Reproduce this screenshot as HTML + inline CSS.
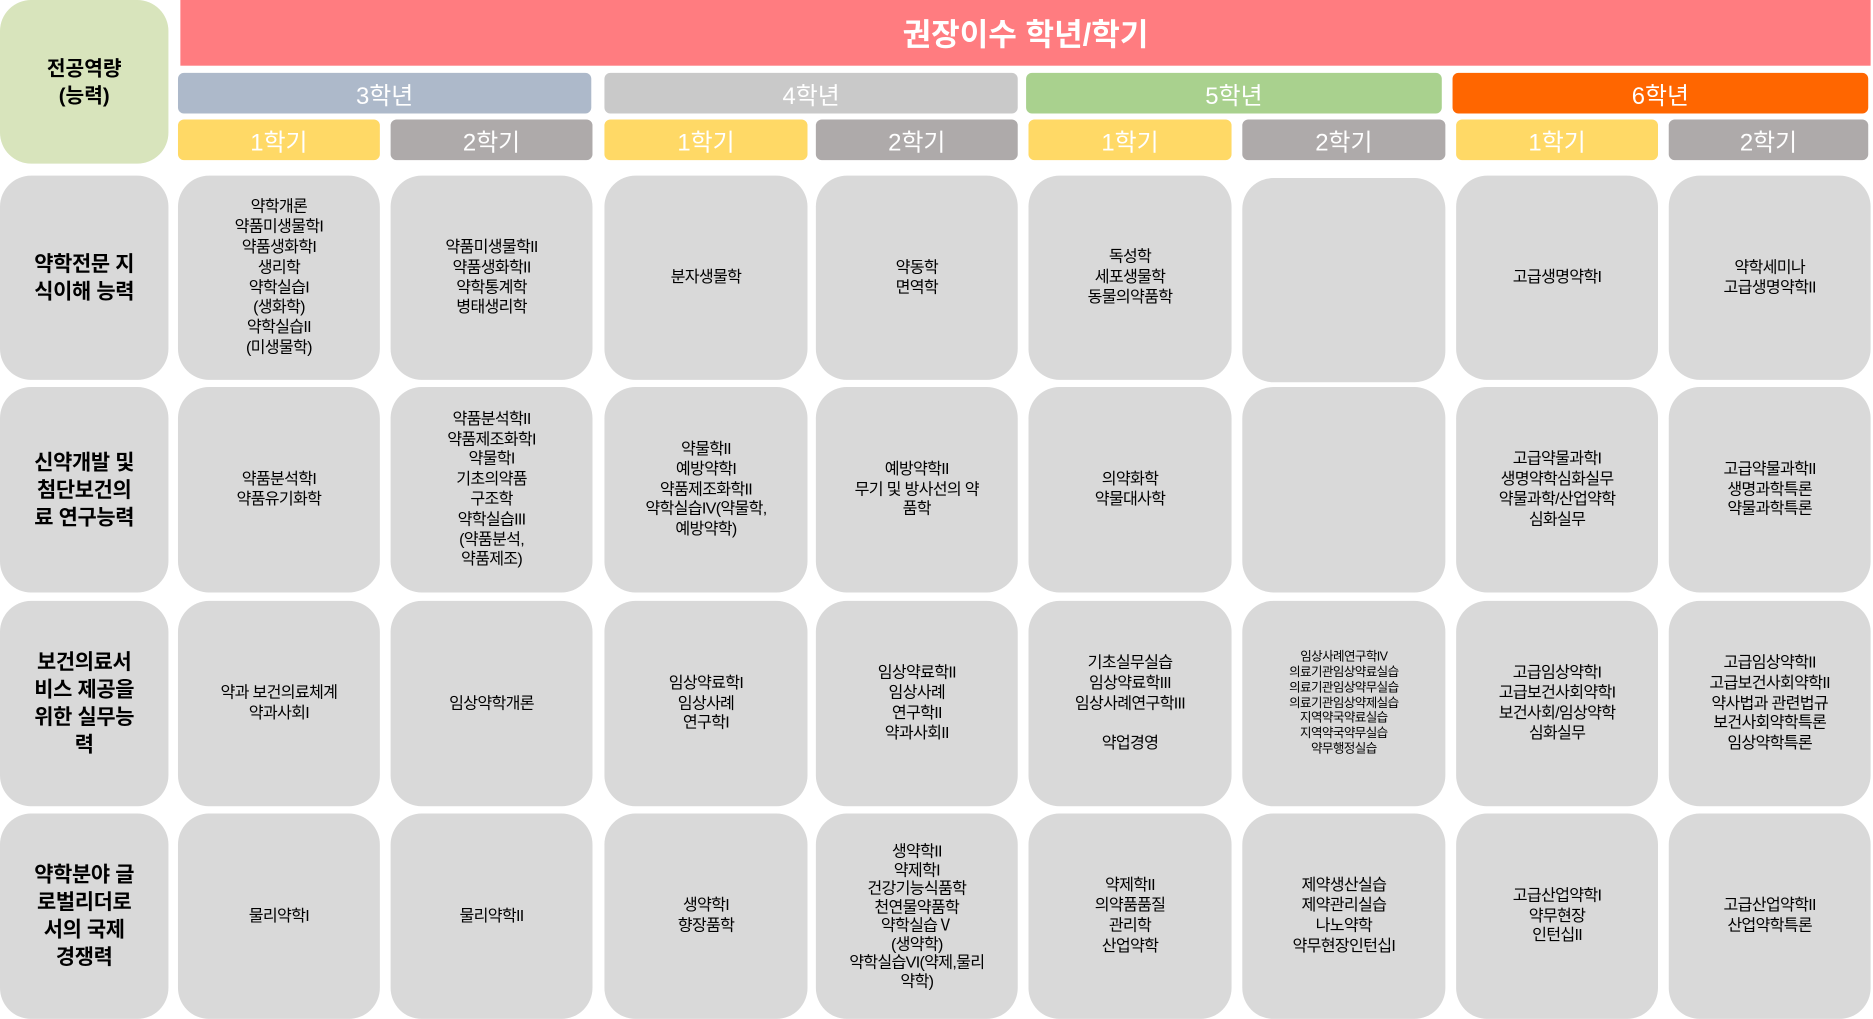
<!DOCTYPE html>
<html><head><meta charset="utf-8"><style>
html,body{margin:0;padding:0;background:#fff;width:1873px;height:1019px;overflow:hidden}
#w{position:absolute;left:0;top:0;width:1568px;height:853px;transform:scale(1.19452);transform-origin:0 0;font-family:"Liberation Sans","Noto Sans CJK KR",sans-serif}
.b{position:absolute;display:flex;align-items:center;justify-content:center;text-align:center;box-sizing:border-box}
.c{background:#d9d9d9;border-radius:26px;font-size:13.5px;line-height:16.8px;letter-spacing:-0.6px;color:#000;padding:0 4px}
.h{background:#d9d9d9;border-radius:26px;font-size:17.5px;line-height:23px;font-weight:bold;color:#000;white-space:nowrap;letter-spacing:-0.3px}
.y{color:#fff;font-size:20px;border-radius:5px}
.s{color:#fff;font-size:20px;border-radius:5px}
.ye{background:#ffd966}.gr{background:#aeaaaa}
.sm{font-size:10.5px;line-height:12.8px;letter-spacing:-0.5px}
</style></head><body><div id="w">
<div class="b" style="left:0;top:0;width:141px;height:137px;background:#d8e4bc;border-radius:26px;font-weight:bold;font-size:17px;line-height:23px">전공역량<br>(능력)</div>
<div class="b" style="left:151px;top:0;width:1415px;height:55px;background:#ff7c80;color:#fff;font-weight:bold;font-size:26px">권장이수 학년/학기</div>
<div class="b y" style="left:149px;top:61px;width:346px;height:34px;background:#adb9ca">3학년</div>
<div class="b y" style="left:506px;top:61px;width:346px;height:34px;background:#c9c9c9">4학년</div>
<div class="b y" style="left:859px;top:61px;width:348px;height:34px;background:#a9d18e">5학년</div>
<div class="b y" style="left:1216px;top:61px;width:348px;height:34px;background:#ff6600">6학년</div>
<div class="b s ye" style="left:149px;top:100px;width:169px;height:34px">1학기</div>
<div class="b s gr" style="left:327px;top:100px;width:169px;height:34px">2학기</div>
<div class="b s ye" style="left:506px;top:100px;width:170px;height:34px">1학기</div>
<div class="b s gr" style="left:683px;top:100px;width:169px;height:34px">2학기</div>
<div class="b s ye" style="left:861px;top:100px;width:170px;height:34px">1학기</div>
<div class="b s gr" style="left:1040px;top:100px;width:170px;height:34px">2학기</div>
<div class="b s ye" style="left:1219px;top:100px;width:169px;height:34px">1학기</div>
<div class="b s gr" style="left:1397px;top:100px;width:167px;height:34px">2학기</div>

<!-- row 1 -->
<div class="b h" style="left:0;top:147px;width:141px;height:171px">약학전문 지<br>식이해 능력</div>
<div class="b c" style="left:149px;top:147px;width:169px;height:171px">약학개론<br>약품미생물학I<br>약품생화학I<br>생리학<br>약학실습I<br>(생화학)<br>약학실습II<br>(미생물학)</div>
<div class="b c" style="left:327px;top:147px;width:169px;height:171px">약품미생물학II<br>약품생화학II<br>약학통계학<br>병태생리학</div>
<div class="b c" style="left:506px;top:147px;width:170px;height:171px">분자생물학</div>
<div class="b c" style="left:683px;top:147px;width:169px;height:171px">약동학<br>면역학</div>
<div class="b c" style="left:861px;top:147px;width:170px;height:171px">독성학<br>세포생물학<br>동물의약품학</div>
<div class="b c" style="left:1040px;top:149px;width:170px;height:171px"></div>
<div class="b c" style="left:1219px;top:147px;width:169px;height:171px">고급생명약학I</div>
<div class="b c" style="left:1397px;top:147px;width:169px;height:171px">약학세미나<br>고급생명약학II</div>

<!-- row 2 -->
<div class="b h" style="left:0;top:324px;width:141px;height:172px">신약개발 및<br>첨단보건의<br>료 연구능력</div>
<div class="b c" style="left:149px;top:324px;width:169px;height:172px">약품분석학I<br>약품유기화학</div>
<div class="b c" style="left:327px;top:324px;width:169px;height:172px">약품분석학II<br>약품제조화학I<br>약물학I<br>기초의약품<br>구조학<br>약학실습III<br>(약품분석,<br>약품제조)</div>
<div class="b c" style="left:506px;top:324px;width:170px;height:172px">약물학II<br>예방약학I<br>약품제조화학II<br>약학실습IV(약물학,<br>예방약학)</div>
<div class="b c" style="left:683px;top:324px;width:169px;height:172px">예방약학II<br>무기 및 방사선의 약<br>품학</div>
<div class="b c" style="left:861px;top:324px;width:170px;height:172px">의약화학<br>약물대사학</div>
<div class="b c" style="left:1040px;top:324px;width:170px;height:172px"></div>
<div class="b c" style="left:1219px;top:324px;width:169px;height:172px">고급약물과학I<br>생명약학심화실무<br>약물과학/산업약학<br>심화실무</div>
<div class="b c" style="left:1397px;top:324px;width:169px;height:172px">고급약물과학II<br>생명과학특론<br>약물과학특론</div>

<!-- row 3 -->
<div class="b h" style="left:0;top:503px;width:141px;height:172px">보건의료서<br>비스 제공을<br>위한 실무능<br>력</div>
<div class="b c" style="left:149px;top:503px;width:169px;height:172px">약과 보건의료체계<br>약과사회I</div>
<div class="b c" style="left:327px;top:503px;width:169px;height:172px">임상약학개론</div>
<div class="b c" style="left:506px;top:503px;width:170px;height:172px">임상약료학I<br>임상사례<br>연구학I</div>
<div class="b c" style="left:683px;top:503px;width:169px;height:172px">임상약료학II<br>임상사례<br>연구학II<br>약과사회II</div>
<div class="b c" style="left:861px;top:503px;width:170px;height:172px">기초실무실습<br>임상약료학III<br>임상사례연구학III<br><br>약업경영</div>
<div class="b c sm" style="left:1040px;top:503px;width:170px;height:172px">임상사례연구학IV<br>의료기관임상약료실습<br>의료기관임상약무실습<br>의료기관임상약제실습<br>지역약국약료실습<br>지역약국약무실습<br>약무행정실습</div>
<div class="b c" style="left:1219px;top:503px;width:169px;height:172px">고급임상약학I<br>고급보건사회약학I<br>보건사회/임상약학<br>심화실무</div>
<div class="b c" style="left:1397px;top:503px;width:169px;height:172px">고급임상약학II<br>고급보건사회약학II<br>약사법과 관련법규<br>보건사회약학특론<br>임상약학특론</div>

<!-- row 4 -->
<div class="b h" style="left:0;top:681px;width:141px;height:172px">약학분야 글<br>로벌리더로<br>서의 국제<br>경쟁력</div>
<div class="b c" style="left:149px;top:681px;width:169px;height:172px">물리약학I</div>
<div class="b c" style="left:327px;top:681px;width:169px;height:172px">물리약학II</div>
<div class="b c" style="left:506px;top:681px;width:170px;height:172px">생약학I<br>향장품학</div>
<div class="b c" style="left:683px;top:681px;width:169px;height:172px;line-height:15.5px">생약학II<br>약제학I<br>건강기능식품학<br>천연물약품학<br>약학실습Ⅴ<br>(생약학)<br>약학실습VI(약제,물리<br>약학)</div>
<div class="b c" style="left:861px;top:681px;width:170px;height:172px">약제학II<br>의약품품질<br>관리학<br>산업약학</div>
<div class="b c" style="left:1040px;top:681px;width:170px;height:172px">제약생산실습<br>제약관리실습<br>나노약학<br>약무현장인턴십I</div>
<div class="b c" style="left:1219px;top:681px;width:169px;height:172px">고급산업약학I<br>약무현장<br>인턴십II</div>
<div class="b c" style="left:1397px;top:681px;width:169px;height:172px">고급산업약학II<br>산업약학특론</div>
</div></body></html>
